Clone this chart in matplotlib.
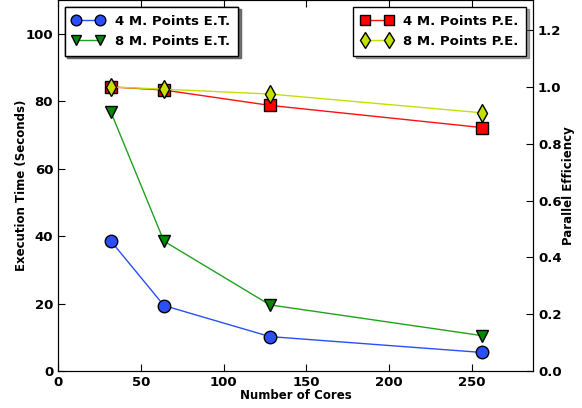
import matplotlib
matplotlib.use('Agg')
import matplotlib.pyplot as plt

plt.rcParams['font.family'] = ['DejaVu Sans']
plt.rcParams['font.weight'] = 'bold'
plt.rcParams['axes.labelweight'] = 'bold'

# 数据
cores = [32, 64, 128, 256]
et_4m = [38.5, 19.4, 10.2, 5.5]
et_8m = [76.7, 38.5, 19.6, 10.5]
pe_4m = [1.0, 0.989, 0.935, 0.857]
pe_8m = [1.0, 0.992, 0.975, 0.909]
x_ticks = [0, 50, 100, 150, 200, 250]
left_ticks = [0, 20, 40, 60, 80, 100]
right_ticks = [0.0, 0.2, 0.4, 0.6, 0.8, 1.0, 1.2]

fig = plt.figure(figsize=(5.82, 4.08), dpi=100)
ax = fig.add_axes([0.0997, 0.0907, 0.8162, 0.9093])
ax2 = ax.twinx()

l1, = ax.plot(cores, et_4m, '-o', color='#2a4ff7', mfc='#2a4ff7', mec='black',
              markersize=9, lw=1, label='4 M. Points E.T.')
l2, = ax.plot(cores, et_8m, '-v', color='#1fa31f', mfc='#008a00', mec='black',
              markersize=9, lw=1, label='8 M. Points E.T.')
l3, = ax2.plot(cores, pe_4m, '-s', color='#ff1010', mfc='#ff0000', mec='black',
               markersize=9, lw=1, label='4 M. Points P.E.')
l4, = ax2.plot(cores, pe_8m, '-d', color='#c4e000', mfc='#c4e000', mec='black',
               markersize=9, lw=1, label='8 M. Points P.E.')

ax.set_xlim(0, 287)
ax.set_ylim(0, 110)
ax2.set_ylim(0, 1.306)
ax.set_xticks(x_ticks)
ax.set_yticks(left_ticks)
ax2.set_yticks(right_ticks)
ax2.set_yticklabels(['%.1f' % v for v in right_ticks])

ax.tick_params(direction='in', top=True, labelsize=9.5, length=5)
ax2.tick_params(direction='in', labelsize=9.5, length=5)
for t in ax.get_xticklabels() + ax.get_yticklabels() + ax2.get_yticklabels():
    t.set_fontweight('bold')

ax.set_xlabel('Number of Cores', fontsize=8.5, fontweight='bold', labelpad=0)
ax.set_ylabel('Execution Time (Seconds)', fontsize=8.5, fontweight='bold', labelpad=-2)
ax2.set_ylabel('Parallel Efficiency', fontsize=8.5, fontweight='bold', labelpad=0)

leg1 = ax.legend(handles=[l1, l2], loc='upper left', fancybox=False, shadow=True,
                 prop={'size': 9.5, 'weight': 'bold'}, borderaxespad=0.5, borderpad=0.6,
                 numpoints=2, handlelength=2.4, labelspacing=0.55, markerscale=0.85)
leg1.get_frame().set_edgecolor('black')
ax.add_artist(leg1)
leg2 = ax2.legend(handles=[l3, l4], loc='upper right', fancybox=False, shadow=True,
                  prop={'size': 9.5, 'weight': 'bold'}, borderaxespad=0.5, borderpad=0.6,
                  numpoints=2, handlelength=2.4, labelspacing=0.55, markerscale=0.85)
leg2.get_frame().set_edgecolor('black')

fig.savefig('out.png', dpi=100)
